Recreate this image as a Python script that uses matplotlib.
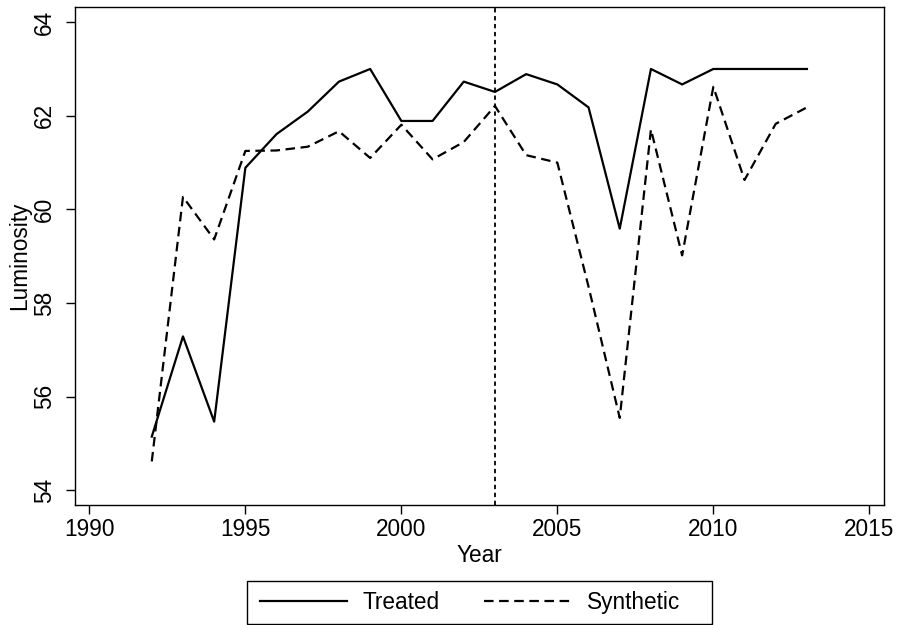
import numpy as np
import matplotlib
matplotlib.use("Agg")
import matplotlib.pyplot as plt
from matplotlib.patches import Rectangle

plt.rcParams['font.family'] = ['Liberation Sans', 'DejaVu Sans']

years = list(range(1992, 2014))
treated = [55.15, 57.29, 55.47, 60.89, 61.61, 62.09, 62.73, 63.0, 61.89, 61.89,
           62.73, 62.51, 62.89, 62.67, 62.18, 59.59, 63.0, 62.67, 63.0, 63.0,
           63.0, 63.0]
synthetic = [54.62, 60.27, 59.36, 61.25, 61.26, 61.34, 61.67, 61.10, 61.81, 61.07,
             61.44, 62.21, 61.16, 61.0, 58.35, 55.55, 61.71, 59.02, 62.62, 60.63,
             61.83, 62.18]
treatment_year = 2003
x_ticks = [1990, 1995, 2000, 2005, 2010, 2015]
y_ticks = [54, 56, 58, 60, 62, 64]

fs = 16.3
W, H = 898, 625
fig = plt.figure(figsize=(W / 100, H / 100), dpi=100)
ax = fig.add_axes([0.0832, 0.192, 0.9844 - 0.0832, 0.9893 - 0.192])

ax.plot(years, treated, color='black', lw=1.6, ls='-', label='Treated')
ax.plot(years, synthetic, color='black', lw=1.6, ls=(0, (4.3, 2.5)), label='Synthetic')
ax.axvline(treatment_year, color='black', lw=1.3, ls=(0, (2.4, 2.0)))

ax.set_xlim(1989.53, 2015.47)
ax.set_ylim(53.69, 64.33)
ax.set_xticks(x_ticks)
ax.set_yticks(y_ticks)
ax.set_xticklabels([str(t) for t in x_ticks], fontsize=fs)
ax.set_yticklabels([str(t) for t in y_ticks], fontsize=fs, rotation=90, va='center')
ax.tick_params(axis='both', length=6.5, width=1.0, color='black')
ax.tick_params(axis='x', pad=2.5)
ax.tick_params(axis='y', pad=7)
for s in ax.spines.values():
    s.set_linewidth(1.0)

ax.set_xlabel('Year', fontsize=fs, labelpad=2.5)
ax.set_ylabel('Luminosity', fontsize=fs, labelpad=1)

# legend box is wider on the right than the entries, so draw the frame by hand
leg = fig.legend(loc='center', bbox_to_anchor=(470 / W, 1 - 602.3 / H),
                 ncol=2, fontsize=fs, frameon=False,
                 handlelength=3.85, handletextpad=0.7, columnspacing=1.95,
                 borderpad=0, borderaxespad=0)
fig.patches.append(Rectangle((246.7 / W, 1 - 624 / H), 465 / W, 43 / H,
                             transform=fig.transFigure, fill=False,
                             edgecolor='black', lw=1.0))

fig.savefig('out.png', dpi=100)
